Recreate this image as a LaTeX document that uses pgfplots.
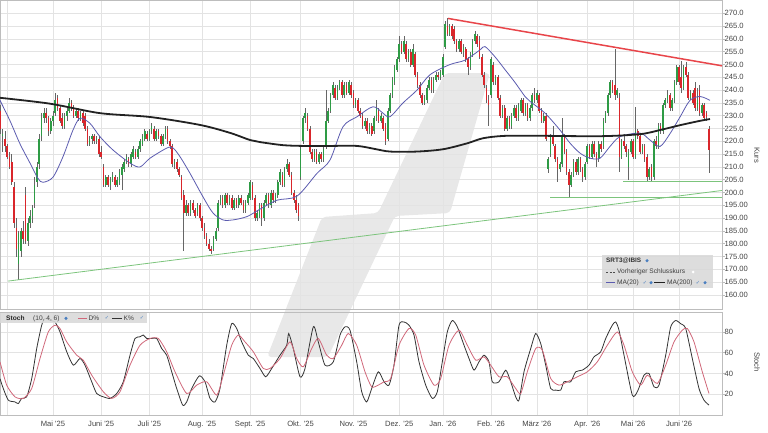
\documentclass[border=0pt]{standalone}
\usepackage{fontspec}
\setmainfont{Liberation Sans}
\newfontfamily\dejavu{DejaVu Sans}
\usepackage{pgfplots}
\usepackage{pgfplotstable}
\pgfplotsset{compat=1.18}
\definecolor{cgreen}{HTML}{2E9B45}
\definecolor{cred}{HTML}{D9262B}
\definecolor{cwick}{HTML}{666666}
\definecolor{ma20}{HTML}{5B5BAF}
\definecolor{ma200}{HTML}{222222}
\definecolor{trendred}{HTML}{E8454A}
\definecolor{trendgreen}{HTML}{7CC47C}
\definecolor{gridc}{HTML}{E3E3E3}
\definecolor{framec}{HTML}{BDBDBD}
\definecolor{wm}{HTML}{E8E8E8}
\definecolor{stochd}{HTML}{D0687A}
\definecolor{stochk}{HTML}{333333}
\definecolor{legbg}{HTML}{D9D9D9}
\definecolor{labc}{HTML}{444444}
\definecolor{chk}{HTML}{4A7FC0}

\pgfplotstableread{
i o h l c
-3 232 234 223 225
-2 222 225 216 223
-1 221 224 216 218
0 218 219 213 214
1 214 216 209 210
2 212 215 203 204
3 202 204 186 188
4 186 190 175 178
5 172 185 166 184
6 177 186 175 185
7 185 189 180 182
8 199 202 180 181
9 181 190 179 188
10 188 193 186 191
11 191 195 188 194
12 196 206 194 203
13 204 212 202 210
14 211 223 209 221
15 222 231 220 229
16 229 233 227 231
17 231 233 227 229
18 229 230 222 224
19 224 229 223 228
20 228 232 226 230
21 231 239 230 236
22 237 238 232 233
23 233 234 227 228
24 229 231 225 226
25 226 231 225 230
26 230 233 228 232
27 232 237 231 235
28 235 236 232 233
29 233 234 229 230
30 230 233 229 232
31 232 233 228 229
32 229 232 228 231
33 231 232 226 227
34 230 231 224 225
35 225 226 218 219
36 219 222 218 221
37 221 223 219 222
38 222 223 219 220
39 220 222 219 221
40 221 222 214 215
41 216 218 213 214
42 210 211 202 203
43 203 207 202 206
44 206 207 202 203
45 203 206 201 205
46 205 208 204 207
47 206 207 202 203
48 203 206 202 205
49 204 209 203 208
50 207 211 201 210
51 209 213 208 212
52 212 215 211 214
53 213 214 210 211
54 211 216 210 215
55 214 218 213 217
56 216 217 213 214
57 214 218 213 217
58 217 221 216 220
59 219 223 218 222
60 221 225 220 224
61 223 224 220 221
62 221 225 220 224
63 224 227 223 226
64 225 226 220 221
65 221 225 220 224
66 224 225 221 222
67 222 223 218 219
68 219 223 218 222
69 222 226 221 225
70 225 226 219 220
71 220 221 217 218
72 218 219 210 211
73 211 213 209 212
74 212 213 208 209
75 209 210 206 207
76 206 207 197 198
77 199 201 177 192
78 192 197 191 195
79 195 196 191 192
80 192 197 191 196
81 196 197 192 193
82 193 194 190 191
83 192 196 191 195
84 195 196 189 190
85 190 191 185 186
86 186 188 182 183
87 183 184 179 180
88 180 182 177 178
89 178 179 176 177
90 178 183 177 182
91 182 186 181 185
92 186 197 185 196
93 196 199 195 198
94 198 199 194 195
95 195 200 194 199
96 199 200 195 196
97 196 199 195 198
98 198 199 193 194
99 194 198 193 197
100 197 198 194 195
101 195 199 194 198
102 198 199 195 196
103 196 197 192 193
104 193 197 192 196
105 196 200 195 199
106 198 205 197 204
107 203 204 197 198
108 198 199 189 190
109 190 193 189 192
110 191 196 190 195
111 195 196 187 190
112 190 197 189 196
113 196 200 195 199
114 199 200 194 195
115 195 201 194 200
116 200 201 196 197
117 197 200 196 199
118 199 205 198 204
119 204 209 203 208
120 207 208 202 203
121 203 210 202 209
122 209 213 208 211
123 211 212 206 207
124 207 208 199 200
125 200 201 196 197
126 197 199 192 193
127 195 196 189 191
128 206 218 205 217
129 220 230 219 229
130 229 233 227 231
131 230 231 224 225
132 225 226 215 216
133 216 217 212 213
134 213 217 212 216
135 216 217 211 212
136 212 216 211 215
137 215 216 212 213
138 213 218 212 217
139 218 240 217 228
140 228 233 227 232
141 232 239 231 238
142 238 243 237 242
143 241 242 236 237
144 237 242 236 241
145 241 244 240 243
146 243 244 237 238
147 238 243 237 242
148 242 243 238 239
149 239 244 238 243
150 242 243 237 238
151 239 240 233 234
152 234 237 233 236
153 236 237 231 232
154 232 233 229 230
155 230 231 225 226
156 226 229 225 228
157 228 229 223 224
158 224 227 223 226
159 226 227 222 223
160 224 230 223 229
161 229 236 228 233
162 232 233 227 228
163 228 231 227 230
164 229 230 224 225
165 226 227 218.5 220
166 221 233 220 232
167 232 239 231 238
168 238 245 237 244
169 243 250 242 249
170 248 253 247 252
171 252 261 251 258
172 258 259 254 255
173 255 261 254 259
174 258 259 251 252
175 252 256 251 255
176 255 256 249 250
177 250 258 249 256
178 254 255 245 246
179 246 247 241 242
180 242 243 237 238
181 238 239 234 235
182 235 238 234 237
183 236 242 235 241
184 241 245 240 244
185 244 245 239 240
186 240 245 239 244
187 244 247 243 246
188 246 247 244 245
189 245 248 244 247
190 246 254 245 253
191 257 267 256 266
192 265 268 261 262
193 262 266 261 265
194 265 266 260 261
195 264 265 258 259
196 259 260 255 256
197 256 260 255 259
198 259 260 254 255
199 255 258 253 257
200 256 257 251 252
201 252 253 246 249
202 249 255 248 254
203 254 260 253 259
204 259 263 258 262
205 261 262 257 258
206 259 261 252 253
207 253 254 245 246
208 246 247 241 242
209 241 242 235 236
210 236 238 226 234
211 238 253 237 252
212 250 251 242 243
213 243 246 242 245
214 245 246 236 237
215 237 238 229 230
216 230 234 229 233
217 233 234 224 225
218 225 230 224 229
219 229 230 225 226
220 226 231 225 230
221 230 234 229 233
222 233 234 228 229
223 229 235 228 234
224 232 237 231 236
225 236 237 230 231
226 231 235 230 234
227 234 235 228 229
228 229 234 228 233
229 233 239 232 238
230 238 241 235 236
231 236 240 235 239
232 238 239 231 232
233 232 233 227 228
234 228 231 227 230
235 230 231 220 221
236 209 214 207.5 213
237 215 223 214 222
238 222 226 218 219
239 218 219 212 213
240 213 214 204 209
241 209 212 208 211
242 211 229 210 222
243 222 223 215 216
244 216 217 207 208
245 208 209 198.3 203
246 203 208 202 207
247 207 213 206 212
248 212 213 207 208
249 208 214 207 213
250 213 214 208 209
251 209 210 204 206
252 206 212 205 211
253 212 219 211 218
254 218 219 213 214
255 214 220 213 219
256 219 220 214 215
257 215 216 210 213
258 213 220 212 219
259 219 220 216 217
260 218 229 217 228
261 228 232 227 231
262 231 239 230 238
263 238 244 237 243
264 243 244 239 240
265 242 256 236 238
266 238 241 237 240
267 237 239 208 214
268 214 221 213 220
269 220 223 217 218
270 218 219 214 216
271 210 217 205 216
272 216 221 215 220
273 220 221 213 214
274 214 233.5 213 224
275 224 225 221 222
276 222 223 215 216
277 216 219 215 218
278 218 219 212 213
279 214 215 204 206
280 206 210 205 209
281 210 211 204 206
282 206 221 205 220
283 220 222 217 218
284 218 227 217 226
285 226 227 223 224
286 224 235 223 234
287 234 237 233 236
288 236 240 235 238
289 238 239 232 233
290 233 237 232 236
291 236 244 235 243
292 243 250 242 249
293 249 250 242 243
294 245 251.5 239 241
295 241 250 240 249
296 249 251 245 246
297 246 247 236 237
298 237 240 236 239
299 239 240 234 235
300 241 243 232 233
301 233 241 232 236
302 240 242 230 231
303 231 235 230 234
304 234 235 228 229
305 231 232 228 229.5
306 225 226 207.5 216.6
}\ohlc

\pgfplotstableread{
px v
0 236
10 228
20 219
30 211.5
38 205.5
43 204
53 206
63 214
73 224.4
80 229
90 227
100 221.8
113 216.6
130 211.5
140 210
150 213.4
167 217.4
173 217.4
180 214
190 207.5
203 198.3
213 192
223 189.3
233 189.3
247 190.6
260 193.5
277 197
297 198.6
317 207.5
330 212.7
343 225.7
357 229.6
373 233.5
383 231
390 229.6
403 235
417 240
430 246
450 250
465 251.7
480 255.7
485 257
495 253
505 248
515 243
525 237.5
530 235.6
545 231
560 224.4
570 219.3
580 215.4
590 213.4
600 213.4
610 218
620 221.8
640 223.2
650 220.5
660 218
670 223
680 229.5
690 236
700 237.5
710 236
}\maA

\pgfplotstableread{
px v
0 237
50 234.7
100 231
150 229.5
200 226.4
230 223.3
250 220.5
260 219.7
283 218.5
303 218.2
330 218.2
357 218.2
375 217
390 216
417 216
443 216.9
467 219.2
483 221.2
503 222.1
530 222.2
600 222
640 222.8
660 224.4
680 226.3
700 228
710 228.7
}\maB

\pgfplotstableread{
px v
0 35
3.3 25.5
8.3 14.3
15 12.6
18.3 11
21.7 16
26.7 17.5
31.7 35
36.7 64
41.7 86.5
45 93
50 91
55 89.6
60 80
66.7 61
73.3 48
80 54.4
85 48
91.7 32
96.7 20.7
103.3 17.5
110 16
116.7 20.7
123.3 32
130 57.6
135 73.7
140 75.3
143.3 77
146.7 73.7
151.7 73.7
156.7 73.7
161.7 64
166.7 57.6
171.7 41.6
176.7 25.5
182.7 9.5
186.7 12.6
191.7 25.5
199.3 37.7
205 32
210 16
215 12.6
220 25.5
226.7 67.2
231.7 88
236.7 83.3
241.7 70.4
248.3 57.6
253.3 54.4
260 44.8
265.7 36.8
271.7 44.8
280 57.6
286.7 67.2
288.7 78.5
293.3 64
300 36.8
305 44.8
313.3 84.9
318.3 70.4
325 48
333.3 51.2
340 77
345 84.9
350 81.7
356.7 51.2
361.7 22.4
366.7 12.6
371.7 25.5
378.3 41.6
384 32
389 28.8
394 48
399 86.5
404 89.6
409 86.5
414 77
419 51.2
425.7 28.8
432.3 16
437.3 22.4
442.3 51.2
447.3 80
452.3 91
457.3 84.9
464 67.2
469 54.4
474 43.2
479 51.2
484 57.6
489 51.2
492.3 32
499 32
505.7 43.2
510.7 32
515.7 17.5
519 14.3
524 41.6
530.7 64
535.7 78.5
540.7 68.8
545.7 48
550.7 25.5
555.7 24
560.7 24
564 32
570.7 32
575.7 41.6
582.3 43.2
589 48
594 56
600.7 60.9
605.7 73.7
612.3 86.5
615.7 89.6
619 81.7
624 57.6
632.3 19.2
637.3 22.4
644 38.4
649 40
654 27.1
659 28.8
665.7 57.6
670.7 84.9
675.7 91
680.7 87.9
685.7 83.3
692.3 54.4
699 25.5
704 14.3
709 9.5
}\stK

\pgfplotstableread{
px v
0 51.2
6.7 28.8
15 17.5
23.3 16
31.7 25.5
40 54.4
48.3 80
55 86.5
60 83.3
66.7 70.4
76.7 57.6
83.3 52.8
91.7 38.4
103.3 22.4
111.7 16
120 22.4
130 48
140 67.2
150 73.7
158.3 73.7
166.7 60.9
175 41.6
186.7 20.7
196.7 28.8
206.7 32
216.7 19.2
223.3 38.4
231.7 67.2
238.3 77
245 70.4
253.3 60.9
263.3 44.8
270 44.8
280 54.4
290 70.4
296.7 54.4
303.3 46.4
311.7 64
318.3 73.7
326.7 57.6
333.3 54.4
341.7 67.2
348.3 78.5
356.7 67.2
365 41.6
371.7 27.1
378.3 28.8
384 32
390.7 35.2
399 67.2
409 83.3
415.7 77
424 48
434 28.8
440.7 35.2
449 67.2
459 81.7
467.3 67.2
475.7 52.8
484 56
490.7 48
499 36.8
507.3 36.8
515.7 25.5
520.7 20.7
527.3 41.6
535.7 64
542.3 62.5
550.7 35.2
559 28.8
567.3 32
577.3 36.8
587.3 41.6
597.3 51.2
607.3 67.2
617.3 80
624 67.2
632.3 41.6
640.7 28.8
647.3 38.4
657.3 30.4
665.7 48
674 70.4
682.3 81.7
687.3 83.3
694 70.4
702.3 41.6
709 20.7
}\stD

\pgfplotsset{
  panel/.style={
    anchor=south west, scale only axis, width=722pt,
    xmin=0, xmax=722,
    axis line style={framec, line width=0.6pt},
    xtick={7.1,53,101.2,149.3,202,250.2,300.6,353.4,399.2,442.8,491,536.8,587.3,633.1,679},
    grid=major, major grid style={gridc, line width=0.6pt},
    ytick pos=right, yticklabel pos=right,
    tick align=outside, major tick length=2.5pt,
    x tick style={draw=none}, y tick style={framec, line width=0.6pt},
    tick label style={font=\fontsize{7.6}{9}\selectfont, text=labc},
    yticklabel style={anchor=west, inner sep=0pt},
    /pgf/number format/assume math mode=true,
  },
  candle/.style={draw=none, mark=none, error bars/.cd, y dir=both, y explicit, error mark=none,
    error bar style={#1}},
}

\begin{document}
\begin{tikzpicture}[font=\fontsize{7.6}{9}\selectfont]
% watermark
\begin{axis}[at={(0pt,0pt)}, anchor=south west, scale only axis, width=768pt, height=432pt,
  xmin=0, xmax=768, ymin=0, ymax=432, y dir=reverse, hide axis, clip=false]
\addplot[fill=wm, draw=none, rounded corners=4pt] coordinates {(445,73) (490,73) (450,213) (395,216) (328,357) (267,357) (322,217) (378,213)} -- cycle;
\end{axis}

% price panel
\begin{axis}[panel, at={(0pt,123pt)}, height=309pt,
  ymin=154.5, ymax=275.2,
  xticklabels={},
  ytick={160,165,...,270},
  yticklabels={160.00,165.00,170.00,175.00,180.00,185.00,190.00,195.00,200.0,205.0,210.0,215.0,220.0,225.0,230.0,235.0,240.0,245.0,250.0,255.0,260.0,265.0,270.0},
]
\addplot[candle={line width=0.5pt, draw=cwick}]
  table[x expr=7.14+2.293*\thisrow{i}, y expr={0.5*(\thisrow{h}+\thisrow{l})}, y error expr={0.5*(\thisrow{h}-\thisrow{l})}] {\ohlc};
\addplot[candle={line width=1.6pt, draw=cgreen}]
  table[x expr=7.14+2.293*\thisrow{i}, y expr={\thisrow{c}>=\thisrow{o} ? 0.5*(\thisrow{o}+\thisrow{c}) : nan}, y error expr={0.5*abs(\thisrow{c}-\thisrow{o})}] {\ohlc};
\addplot[candle={line width=1.6pt, draw=cred}]
  table[x expr=7.14+2.293*\thisrow{i}, y expr={\thisrow{c}<\thisrow{o} ? 0.5*(\thisrow{o}+\thisrow{c}) : nan}, y error expr={0.5*abs(\thisrow{c}-\thisrow{o})}] {\ohlc};
\addplot[ma20, line width=0.8pt, smooth, mark=none] table[x=px, y=v] {\maA};
\addplot[ma200, line width=1.8pt, smooth, mark=none] table[x=px, y=v] {\maB};
\addplot[trendred, line width=1.5pt, mark=none] coordinates {(448,268) (722,249.5)};
\addplot[trendgreen, line width=0.8pt, mark=none] coordinates {(8,165.4) (722,200.8)};
\addplot[trendgreen, line width=0.8pt, mark=none] coordinates {(550,198.1) (722,198.1)};
\addplot[trendgreen, line width=0.8pt, mark=none] coordinates {(623,204.3) (722,204.3)};
\end{axis}

% stochastic panel
\begin{axis}[panel, at={(0pt,17pt)}, height=103pt,
  ymin=0, ymax=99.2,
  ytick={20,40,60,80}, yticklabels={20,40,60,80},
  xticklabels={,Mai \textquotesingle25,Juni \textquotesingle25,Juli \textquotesingle25,Aug. \textquotesingle25,Sept. \textquotesingle25,Okt. \textquotesingle25,Nov. \textquotesingle25,Dez. \textquotesingle25,Jan. \textquotesingle26,Feb. \textquotesingle26,März \textquotesingle26,Apr. \textquotesingle26,Mai \textquotesingle26,Juni \textquotesingle26},
  xticklabel style={anchor=north, inner sep=0pt, yshift=-3pt},
]
\addplot[stochk, line width=0.8pt, smooth, tension=0.4, mark=none] table[x=px, y=v] {\stK};
\addplot[stochd, line width=0.8pt, smooth, tension=0.4, mark=none] table[x=px, y=v] {\stD};
\end{axis}

% axis titles
\node[rotate=-90, text=labc] at (757pt,277pt) {Kurs};
\node[rotate=-90, text=labc] at (757pt,70pt) {Stoch};

% price legend
\fill[legbg, opacity=0.9] (602pt,177pt) rectangle (713pt,144pt);
\begin{scope}[font=\fontsize{6.6}{7}\selectfont]
\node[anchor=west, inner sep=0pt, font=\fontsize{6.4}{7}\selectfont\bfseries, text=black!80] at (606pt,171.3pt) {SRT3@IBIS};
\fill[chk] (647pt,171.3pt) circle (1.7pt);
\draw[black!70, line width=0.7pt, dash pattern=on 2pt off 1.5pt] (606pt,160pt) -- (615pt,160pt);
\node[anchor=west, inner sep=0pt, text=black!75] at (617pt,160pt) {Vorheriger Schlusskurs};
\fill[white] (693pt,160pt) circle (1.5pt);
\draw[ma20, line width=1pt] (606pt,149.3pt) -- (615pt,149.3pt);
\node[anchor=west, inner sep=0pt, text=black!75] at (617pt,149.3pt) {MA(20)};
\node[inner sep=0pt, text=chk, font=\dejavu\fontsize{5}{5}\selectfont] at (645pt,149.3pt) {✓};
\fill[chk] (651pt,149.3pt) circle (1.7pt);
\draw[ma200, line width=1pt] (654pt,149.3pt) -- (665pt,149.3pt);
\node[anchor=west, inner sep=0pt, text=black!75] at (667pt,149.3pt) {MA(200)};
\node[inner sep=0pt, text=chk, font=\dejavu\fontsize{5}{5}\selectfont] at (698pt,149.3pt) {✓};
\fill[chk] (705pt,149.3pt) circle (1.7pt);
\end{scope}

% stoch legend
\fill[legbg, opacity=0.9] (0pt,119pt) rectangle (147pt,109pt);
\begin{scope}[font=\fontsize{6.6}{7}\selectfont]
\node[anchor=west, inner sep=0pt, font=\fontsize{6.6}{7}\selectfont\bfseries, text=black!85] at (6pt,113.7pt) {Stoch};
\node[anchor=west, inner sep=0pt, text=black!75] at (33pt,113.7pt) {(10, 4, 6)};
\fill[chk] (66pt,113.7pt) circle (1.7pt);
\draw[stochd, line width=1pt] (78pt,113.7pt) -- (87pt,113.7pt);
\node[anchor=west, inner sep=0pt, text=black!75] at (88.5pt,113.7pt) {D\%};
\node[inner sep=0pt, text=chk, font=\dejavu\fontsize{5}{5}\selectfont] at (107pt,113.7pt) {✓};
\draw[stochk, line width=1pt] (112pt,113.7pt) -- (122pt,113.7pt);
\node[anchor=west, inner sep=0pt, text=black!75] at (123.5pt,113.7pt) {K\%};
\node[inner sep=0pt, text=chk, font=\dejavu\fontsize{5}{5}\selectfont] at (142pt,113.7pt) {✓};
\end{scope}

\pgfresetboundingbox
\path[use as bounding box] (0pt,0pt) rectangle (768pt,432pt);
\end{tikzpicture}
\end{document}
